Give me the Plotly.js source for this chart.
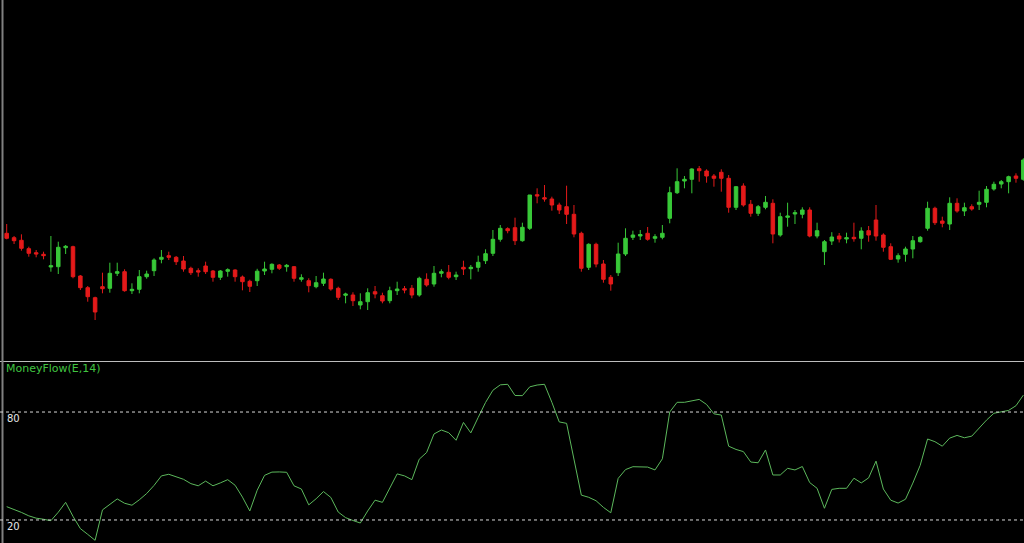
<!DOCTYPE html>
<html>
<head>
<meta charset="utf-8">
<script src="https://cdn.plot.ly/plotly-3.0.1.min.js"></script>
<style>
html,body{margin:0;padding:0;background:#000;}
#chart{width:1024px;height:543px;}
</style>
</head>
<body>
<div id="chart"></div>
<script>
// Price data (arbitrary price units, no visible price axis)
const openP = [126.7,122.3,119.7,111.3,107.3,105.7,93,93.3,112.3,113.3,84,72.3,62.3,73.3,71.7,86.7,88.3,69.3,70.7,83.3,
89.3,100.7,104.3,102.7,99,91.7,89.3,94,89,82.7,88.7,90,83,78.7,79.3,89,90.7,95,93.3,93.3,
80.7,79.3,73.3,76.7,80.7,71.7,64.7,65,55,58.3,68.3,64.3,59.3,69.3,71.3,71.7,65,80.7,76,86.7,
87.7,83.3,92.7,91.3,92.7,99.3,106.7,120.7,131.3,132.3,119.3,131.7,165.3,162.3,161,155,153.3,145.7,126.7,92.7,
115.7,96,82.7,87.3,106,122.7,124,126.7,121.7,122.7,141.7,167.3,179,180.7,191.3,189,184,187.7,181.7,152.7,
174,155.7,146.7,152.7,156.7,125,142.7,146,145.7,150,124,108.3,119,124,121,122.7,121.7,129.3,140,125,
113.3,101,105.7,111,118.3,131.7,151.7,139,136,156.7,149,153.3,155.7,157.7,171,176,178.3,184,180.7];
const highP = [136,124,125.7,113.3,110,108.3,124,118.3,115,114.3,85,74,63.3,87.3,97.3,97.3,90.7,76.7,90,89.3,
101.7,110,108.3,104,104,93.3,91.7,98.3,90,90,91.7,90.7,84.5,80.3,91.2,98.3,96.7,96,96,94,
85.7,81.7,84,87.3,81.7,73.3,67.3,67.7,66.7,71.7,74,67.3,73.3,78.3,74,75,83.3,86.7,94,90.7,
95,88.3,99.3,95,104.3,110.7,130,135,132.7,142.3,137.3,165,171.7,175,163.3,157.3,174.3,155,128.3,116.7,
117.3,100,85,117.3,131.7,129.3,130,133,125.8,135,173.3,191.7,184,191.7,194,190.7,186,190.7,185,174,
176.7,160,155,164,160.7,147.3,157.3,150,152.7,152.7,137.3,120,127.8,127,127.3,137.3,132.7,134,155,126.7,
116.7,106.7,113.3,124,124,158.3,153.3,143.3,162.7,161.7,157.3,155.7,169.3,174,178.3,180,184.3,186.7,201.7];
const lowP = [120.7,116,109.3,103.3,102.7,100.7,88.3,86,106,81.7,70,58.3,40,66.7,67.3,84,68.3,66,66.7,81.3,
84,96.7,100,95,88.3,85,83.3,86,78.3,80,83.3,78.3,69.7,68,74,85,86.7,90,88.3,78.3,
78.3,67.7,71.7,74,69.3,60,56.7,54,50.7,50,61.7,56.7,56.7,65,66.7,61.7,63.3,73.3,73.3,82.7,
80.7,80,85,80.7,88.3,96,104,118.3,126.7,115,118.3,130,156.7,158.3,149.3,146,136,122.7,88.3,90,
92.7,77.3,69.3,84,104,120,120,119.3,117.3,120.7,136.7,166,171.7,166.7,178.3,177.3,173.3,168.3,147.3,150,
153.3,143.3,144,150.7,116.7,123.3,133.3,136,141.7,122.7,121.7,95,115,117.5,116.7,118.3,110.7,118.3,119.3,108.3,
100,97.3,98.3,101.7,117.3,129.3,135,132.7,130,147.3,144,149.3,150,152.7,169.3,171.7,166.7,177.3,179.3];
const closeP = [121.7,119.3,111.7,106.7,106,104.3,94.3,112.7,113.7,83.3,72.3,63.3,48,71.3,86.7,88.3,69.3,70.7,83.3,86,
100,102.7,102.7,98.3,91,87.3,88,88.3,82.7,89,90.3,83.3,78.3,73.7,88.8,91,95.7,91.7,94.7,81.7,
82.3,74.3,77.3,81,71,62.7,66,59.3,58.3,67.3,66,59,69.3,71,70,65,81.7,75,86.7,88.3,
82.7,85,91,92.7,97.7,106.3,120.7,131.7,129.3,119.3,132.7,165,164,161,155,150,145.7,126,91.7,115.7,
96,80.7,76,106,121.7,125,125.5,120.7,123.3,126.7,167.3,178.3,180.7,191,189.3,184,181.7,181.7,152.7,173.3,
155,146.7,153.3,157.7,126,143.3,144,147.3,150,124,129.3,118.3,123,121,122.3,121.3,129,125,124,112.7,
100.7,104.3,111,119.3,122.7,151.7,137.3,136.7,156.7,149,152.3,151,157.7,170.7,175.7,178.3,183.3,181.7,200];
// MoneyFlow(E,14) values
const mfi = [27.4,25.9,24.2,22.3,21,20.4,19.6,24.3,29.8,22,15.2,12,8.7,25.6,28.6,31.7,29.3,28.2,31.2,34.7,
39.2,44.5,45.4,44.1,42.6,40.2,39,41.6,39,40.6,42.4,39.3,32.7,25,36.5,44.8,46.6,46.7,46.5,39,
37.2,28.4,31.8,35.8,32.5,24.4,21.3,19.7,18.3,25,31,29.8,37.4,45.6,44.5,42.4,53.8,57.5,67.8,70,
68.5,64.3,74.2,68.4,77,85.3,92.1,95.1,95.4,89.2,89.1,94,95,95.4,85.4,74.5,73.7,54,33.8,32.6,
30.7,27,24,43.1,48,49.6,49.6,49.4,47.8,54,80,85.4,85.4,86,87,84.2,79,78.3,61,59.2,
58,52.2,51.8,58.9,45,45,48.7,47.8,49.7,40.8,37.6,26.5,37,37.6,37.6,43.2,40.6,43.4,52.7,37.2,
31,29.4,31.5,40.5,50.4,65,63.5,61,65.5,67,65.7,66.6,71.3,75.5,79.3,80,80.9,83.5,89.4];
const levels = [80, 20];
const levelLabels = ["80", "20"];
const indicatorName = "MoneyFlow(E,14)";

const bars = openP.map((_, i) => i);
const pxW = 1024, pxH = 543;
const step = 7.367, firstX = 6.7;
const xr = [-firstX / step, (pxW - firstX) / step];

const GREEN = '#38c838', RED = '#e41a1a';

const traces = [
  {
    type: 'candlestick', x: bars, open: openP, high: highP, low: lowP, close: closeP,
    xaxis: 'x', yaxis: 'y',
    increasing: {line: {color: GREEN, width: 1}, fillcolor: GREEN},
    decreasing: {line: {color: RED, width: 1}, fillcolor: RED},
    whiskerwidth: 0, hoverinfo: 'skip', showlegend: false
  },
  {
    type: 'scatter', mode: 'lines', x: bars, y: mfi, xaxis: 'x2', yaxis: 'y2',
    line: {color: '#5cb85c', width: 1}, hoverinfo: 'skip', showlegend: false
  }
];

const axOff = {showgrid: false, zeroline: false, showticklabels: false, ticks: '', showline: false, fixedrange: true};

const shapes = [
  // panel separator
  {type: 'line', xref: 'paper', yref: 'paper', x0: 0, x1: 1, y0: (pxH - 361.5) / pxH, y1: (pxH - 361.5) / pxH,
   line: {color: '#bdbdbd', width: 1}},
  // left border
  {type: 'line', xref: 'paper', yref: 'paper', x0: 2.5 / pxW, x1: 2.5 / pxW, y0: 0, y1: 1,
   line: {color: '#808080', width: 2}}
];
levels.forEach(v => shapes.push({
  type: 'line', xref: 'paper', yref: 'y2', x0: 0, x1: 1, y0: v, y1: v,
  line: {color: '#d8d8d8', width: 1, dash: '3px,3px'}
}));

const annotations = levels.map((v, k) => ({
  xref: 'paper', yref: 'y2', x: 5 / pxW, y: v, xanchor: 'left', yanchor: 'top',
  text: levelLabels[k], showarrow: false, yshift: 1,
  font: {family: 'DejaVu Sans, sans-serif', size: 10, color: '#e6e6e6'}
}));
annotations.push({
  xref: 'paper', yref: 'paper', x: 4 / pxW, y: (pxH - 362) / pxH, xanchor: 'left', yanchor: 'top',
  text: indicatorName, showarrow: false, yshift: 2,
  font: {family: 'DejaVu Sans, sans-serif', size: 11, color: '#40c440'}
});

const layout = {
  width: pxW, height: pxH,
  margin: {l: 0, r: 0, t: 0, b: 0, pad: 0},
  paper_bgcolor: '#000', plot_bgcolor: '#000',
  showlegend: false,
  boxgap: 0.32,
  xaxis: Object.assign({}, axOff, {range: xr, domain: [0, 1], anchor: 'y', rangeslider: {visible: false}}),
  yaxis: Object.assign({}, axOff, {range: [0, 360], domain: [(pxH - 360) / pxH, 1], anchor: 'x'}),
  xaxis2: Object.assign({}, axOff, {range: xr, domain: [0, 1], anchor: 'y2'}),
  yaxis2: Object.assign({}, axOff, {range: [7.2, 107.8], domain: [0, (pxH - 362) / pxH], anchor: 'x2'}),
  shapes: shapes,
  annotations: annotations
};

Plotly.newPlot('chart', traces, layout, {staticPlot: true, displayModeBar: false});
</script>
</body>
</html>
